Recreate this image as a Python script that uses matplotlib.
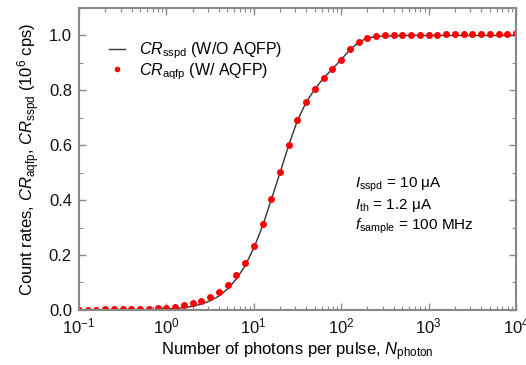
import numpy as np
import matplotlib
matplotlib.use('Agg')
import matplotlib.pyplot as plt
from matplotlib.ticker import LogLocator, MultipleLocator, NullFormatter

plt.rcParams['font.family'] = ['Liberation Sans', 'DejaVu Sans']
plt.rcParams['mathtext.fontset'] = 'custom'
plt.rcParams['mathtext.rm'] = 'Liberation Sans'
plt.rcParams['mathtext.it'] = 'Liberation Sans:italic'
plt.rcParams['mathtext.sf'] = 'Liberation Sans'

# фотонов на импульс: 10 точек на декаду от 0.1 до 1e4
n_photon = [0.1, 0.126, 0.158, 0.2, 0.251, 0.316, 0.398, 0.501, 0.631, 0.794,
            1.0, 1.26, 1.58, 2.0, 2.51, 3.16, 3.98, 5.01, 6.31, 7.94,
            10.0, 12.6, 15.8, 20.0, 25.1, 31.6, 39.8, 50.1, 63.1, 79.4,
            100.0, 126, 158, 200, 251, 316, 398, 501, 631, 794,
            1000, 1259, 1585, 1995, 2512, 3162, 3981, 5012, 6310, 7943,
            10000]

# CR_aqfp (W/ AQFP), 10^6 cps
cr_aqfp = [0.0, 0.0005, 0.001, 0.0015, 0.002, 0.0025, 0.003, 0.004, 0.005, 0.006,
           0.0085, 0.012, 0.018, 0.024, 0.033, 0.046, 0.064, 0.091, 0.126, 0.172,
           0.234, 0.313, 0.403, 0.502, 0.601, 0.692, 0.757, 0.805, 0.844, 0.878,
           0.912, 0.949, 0.976, 0.992, 0.998, 1.0, 1.001, 1.001, 1.002, 1.002,
           1.003, 1.003, 1.004, 1.004, 1.005, 1.005, 1.006, 1.006, 1.007, 1.007,
           1.008]

# CR_sspd (W/O AQFP), 10^6 cps
cr_sspd = [0.0, 0.0, 0.0, 0.0, 0.0, 0.0, 0.0, 0.0, 0.0005, 0.001,
           0.003, 0.005, 0.008, 0.013, 0.021, 0.033, 0.050, 0.076, 0.112, 0.160,
           0.225, 0.305, 0.400, 0.500, 0.600, 0.690, 0.757, 0.805, 0.845, 0.878,
           0.912, 0.948, 0.975, 0.991, 0.996, 0.998, 0.999, 1.0, 1.0, 1.0,
           1.0, 1.0, 1.0, 1.0, 1.0, 1.0, 1.0, 1.0, 1.0, 1.0,
           1.0]

fig = plt.figure(figsize=(5.26, 3.65), dpi=100)
ax = fig.add_axes([0.150, 0.151, 0.831, 0.827])

ax.plot(n_photon, cr_sspd, color='#333333', lw=1.0,
        label=r'$\mathit{CR}_{\mathrm{sspd}}$ (W/O AQFP)')
ax.plot(n_photon, cr_aqfp, 'o', color='#ff0000', ms=5, mec='none',
        label=r'$\mathit{CR}_{\mathrm{aqfp}}$ (W/ AQFP)')

ax.set_xscale('log')
ax.set_xlim(0.1, 1e4)
ax.set_ylim(0, 1.1)
ax.yaxis.set_major_locator(MultipleLocator(0.2))
ax.yaxis.set_minor_locator(MultipleLocator(0.1))
ax.yaxis.set_major_formatter(plt.FormatStrFormatter('%.1f'))
ax.xaxis.set_major_locator(LogLocator(base=10, numticks=10))
ax.xaxis.set_minor_locator(LogLocator(base=10, subs=np.arange(2, 10), numticks=20))
ax.xaxis.set_minor_formatter(NullFormatter())

for s in ax.spines.values():
    s.set_color('#888888')
    s.set_linewidth(1.5)
ax.tick_params(which='both', direction='in', top=True, right=True,
               color='#888888', labelsize=12, labelcolor='#111111')
ax.tick_params(which='major', length=5, width=1, pad=5)
ax.tick_params(which='minor', length=3, width=0.8)

ax.set_xlabel(r'Number of photons per pulse, $\mathit{N}_{\mathrm{photon}}$',
              fontsize=12, labelpad=3)
ax.set_ylabel(r'Count rates, $\mathit{CR}_{\mathrm{aqfp}}$, '
              r'$\mathit{CR}_{\mathrm{sspd}}$ (10$^{6}$ cps)',
              fontsize=12, labelpad=5)

ax.legend(loc='upper left', bbox_to_anchor=(0.035, 0.94), frameon=False,
          fontsize=11.5, handlelength=1.0, handletextpad=0.9,
          labelspacing=0.0, markerscale=0.8)

ax.text(0.632, 0.443,
        '$\\mathit{I}_{\\mathrm{sspd}}$ = 10 \u03bcA\n'
        '$\\mathit{I}_{\\mathrm{th}}$ = 1.2 \u03bcA\n'
        '$\\mathit{f}_{\\mathrm{sample}}$ = 100 MHz',
        transform=ax.transAxes, fontsize=11, linespacing=1.2, va='top')

fig.savefig('out.png', dpi=100)
